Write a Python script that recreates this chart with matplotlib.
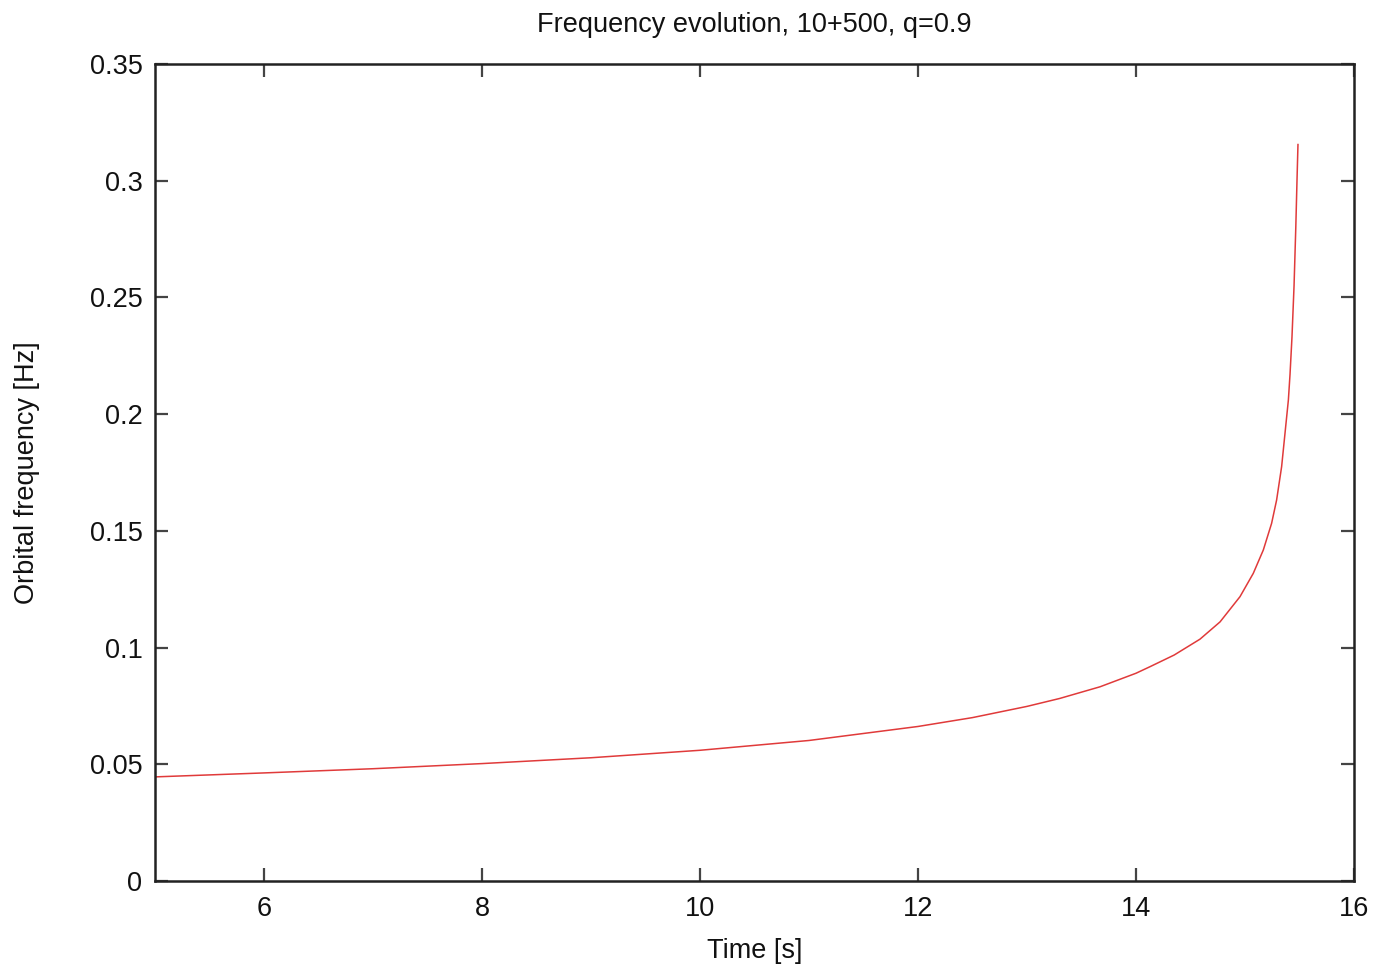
import numpy as np
from matplotlib import pyplot as plt

# values
time = [5.0, 6.0, 7.0, 8.0, 9.0, 10.0, 11.0, 12.0, 12.5, 13.0, 13.3,
        13.67, 14.0, 14.128, 14.35, 14.587, 14.771, 14.954, 15.076, 15.168,
        15.244, 15.29, 15.336, 15.367, 15.398, 15.413, 15.431, 15.45,
        15.466, 15.477, 15.486]
freq = [0.0446, 0.0463, 0.0481, 0.0503, 0.0528, 0.0560, 0.0602, 0.0662,
        0.0700, 0.0748, 0.0782, 0.0832, 0.0890, 0.0918, 0.0968, 0.1036,
        0.1110, 0.1218, 0.1318, 0.1418, 0.1532, 0.1632, 0.1775, 0.1918,
        0.2061, 0.2170, 0.2330, 0.2550, 0.2800, 0.3000, 0.3155]

xticks = [6, 8, 10, 12, 14, 16]
yticks = [0, 0.05, 0.1, 0.15, 0.2, 0.25, 0.3, 0.35]
ylabels = ['0', '0.05', '0.1', '0.15', '0.2', '0.25', '0.3', '0.35']

plt.rcParams['font.family'] = ['Liberation Sans', 'DejaVu Sans']
fs = 19.5

fig = plt.figure(figsize=(13.82, 9.69), dpi=100)
ax = fig.add_axes([155/1382, 1-881/969, 1199/1382, 817/969])

ax.plot(time, freq, color='#e03a3a', lw=1.1)

ax.set_xlim(5, 16)
ax.set_ylim(0, 0.35)
ax.set_xticks(xticks)
ax.set_yticks(yticks)
ax.set_yticklabels(ylabels)
ax.tick_params(direction='in', length=9.5, width=1.6, top=True, right=True,
               labelsize=fs, pad=9, color='#444444', labelcolor='#111111')
ax.tick_params(axis='x', pad=11)
for s in ax.spines.values():
    s.set_linewidth(1.8)
    s.set_color('#222222')

ax.set_title('Frequency evolution, 10+500, q=0.9', fontsize=fs, pad=23,
             color='#111111')
ax.set_xlabel('Time [s]', fontsize=fs, labelpad=11, color='#111111')
ax.set_ylabel('Orbital frequency [Hz]', fontsize=fs, labelpad=36,
              color='#111111')

fig.savefig('out.png', dpi=100)
